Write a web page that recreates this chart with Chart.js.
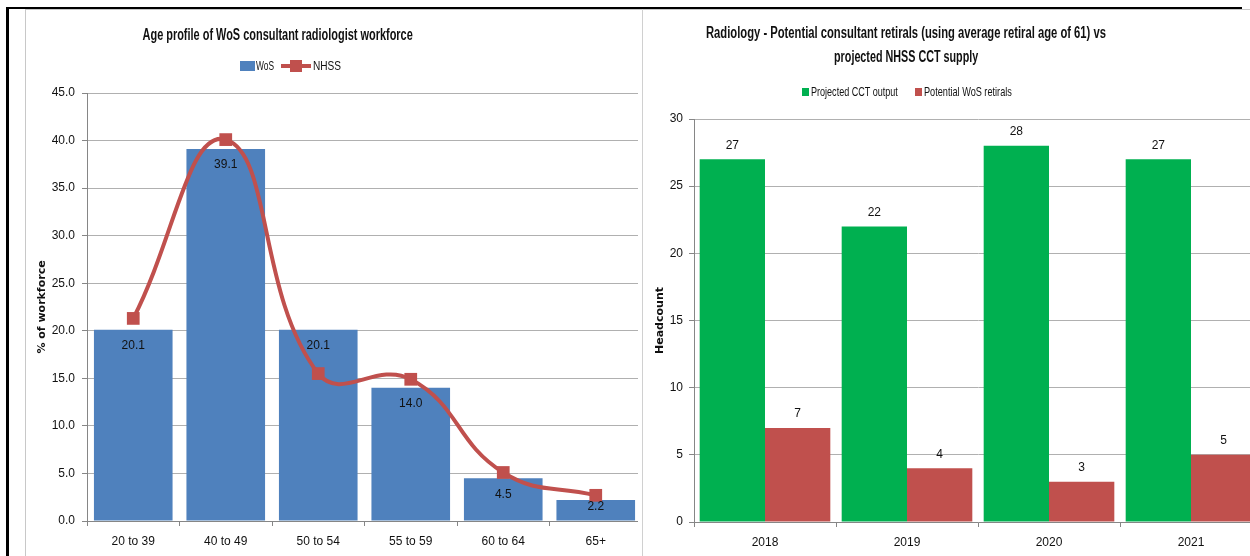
<!DOCTYPE html>
<html>
<head>
<meta charset="utf-8">
<script src="https://cdn.jsdelivr.net/npm/chart.js@4.4.1/dist/chart.umd.min.js"></script>
<style>
  html, body { margin: 0; padding: 0; background: #fff; }
  body { width: 1250px; height: 556px; position: relative; overflow: hidden;
         font-family: 'Liberation Sans', Arial, sans-serif; color: #111; }
  .frame { position: absolute; }
  #blackLeft { left: 6px; top: 7px; width: 3px; height: 549px; background: #000; }
  #blackTop { left: 6px; top: 7px; width: 1236px; height: 2px; background: #000; }
  #greyLeft1 { left: 25px; top: 9px; width: 1px; height: 547px; background: #c8c8c8; }
  #greyLeft2 { left: 642px; top: 9px; width: 1px; height: 547px; background: #d0d0d0; }
  #greyTop { left: 25px; top: 9px; width: 1225px; height: 1px; background: #c8c8c8; }
  #leftBox { position: absolute; left: 26px; top: 10px; width: 612px; height: 546px; overflow: hidden; }
  #rightBox { position: absolute; left: 643px; top: 10px; width: 607px; height: 546px; overflow: hidden; }
  .title { position: absolute; width: 600px; text-align: center; font-weight: bold; font-size: 16px; line-height: 20px; white-space: nowrap; }
  .title span { display: inline-block; transform-origin: center center; }
  .legend { position: absolute; font-size: 13px; line-height: 14px; white-space: nowrap; }
  .legend span { display: inline-block; vertical-align: middle; }
  .legend .txt { transform-origin: left center; }
  .lineSw { position: relative; width: 30px; height: 4px; background: #C0504D; margin: 0 2px 0 3px; }
  .lineSw i { position: absolute; left: 9px; top: -4px; width: 12px; height: 12px; background: #C0504D; }
</style>
</head>
<body>
<div class="frame" id="blackLeft"></div>
<div class="frame" id="blackTop"></div>
<div class="frame" id="greyTop"></div>
<div class="frame" id="greyLeft1"></div>
<div class="frame" id="greyLeft2"></div>

<div id="leftBox"><canvas id="ageChart" width="625" height="546"></canvas></div>
<div id="rightBox"><canvas id="retChart" width="626" height="546"></canvas></div>

<div class="title" style="left:-22px; top:25px;"><span data-w="270">Age profile of WoS consultant radiologist workforce</span></div>
<div class="legend" style="left:240px; top:58px;">
  <span style="width:15px;height:10px;background:#4F81BD;margin-right:1px;"></span><span class="txt" data-w="18">WoS</span>
  <span class="lineSw"><i></i></span><span class="txt" data-w="28">NHSS</span>
</div>

<div class="title" style="left:606px; top:23px;"><span data-w="400">Radiology - Potential consultant retirals (using average retiral age of 61) vs</span></div>
<div class="title" style="left:606px; top:47px;"><span data-w="144">projected NHSS CCT supply</span></div>
<div class="legend" style="left:802px; top:84px;">
  <span style="width:7px;height:8px;background:#00B050;margin-right:2px;"></span><span class="txt" data-w="87">Projected CCT output</span>
  <span style="width:7px;height:8px;background:#C0504D;margin:0 2px 0 14px;"></span><span class="txt" data-w="88">Potential WoS retirals</span>
</div>

<script>
var ageGroups = ['20 to 39', '40 to 49', '50 to 54', '55 to 59', '60 to 64', '65+'];
var wosPct = [20.1, 39.1, 20.1, 14.0, 4.5, 2.2];
var nhssPct = [21.3, 40.1, 15.5, 14.9, 5.1, 2.7];

var years = ['2018', '2019', '2020', '2021'];
var cctOutput = [27, 22, 28, 27];
var wosRetirals = [7, 4, 3, 5];

var FONT = "'Liberation Sans', Arial, sans-serif";
var TITLE_FONT = "'DejaVu Sans', Verdana, sans-serif";
var GRID = '#b0b0b0';
var AXIS = '#868686';

// squeeze the header texts to the narrow widths of the original font
document.querySelectorAll('[data-w]').forEach(function(el) {
    var target = parseFloat(el.getAttribute('data-w'));
    var w = el.offsetWidth;
    el.style.transform = 'scaleX(' + (target / w) + ')';
    if (el.classList.contains('txt')) {
        el.style.marginRight = (target - w) + 'px';
    }
});

// bar value labels, drawn from the bar elements
var barLabels = {
    id: 'barLabels',
    afterDatasetsDraw: function(chart, args, opts) {
        var ctx = chart.ctx;
        ctx.save();
        ctx.font = '12px ' + FONT;
        ctx.fillStyle = '#111';
        ctx.textAlign = 'center';
        ctx.textBaseline = 'middle';
        chart.data.datasets.forEach(function(ds, i) {
            if (ds.type === 'line') return;
            var meta = chart.getDatasetMeta(i);
            meta.data.forEach(function(bar, j) {
                var v = ds.data[j];
                var y;
                if (opts.inside) {
                    y = Math.min(bar.y + 16, bar.base - 14);
                } else {
                    y = bar.y - 14;
                }
                ctx.fillText(v.toFixed(opts.decimals), bar.x, y);
            });
        });
        ctx.restore();
    }
};

Chart.defaults.font.family = FONT;
Chart.defaults.color = '#111';

new Chart(document.getElementById('ageChart'), {
    data: {
        labels: ageGroups,
        datasets: [
            {
                type: 'line',
                label: 'NHSS',
                data: nhssPct,
                borderColor: '#C0504D',
                backgroundColor: '#C0504D',
                borderWidth: 4,
                tension: 0.45,
                pointStyle: 'rect',
                pointRadius: 9,
                pointBorderWidth: 0,
                order: 0
            },
            {
                type: 'bar',
                label: 'WoS',
                data: wosPct,
                backgroundColor: '#4F81BD',
                barPercentage: 0.85,
                categoryPercentage: 1.0,
                order: 1
            }
        ]
    },
    options: {
        responsive: false,
        animation: false,
        layout: { padding: { top: 83, right: 6, left: 0, bottom: 0 } },
        plugins: {
            legend: { display: false },
            title: { display: false },
            tooltip: { enabled: false },
            barLabels: { inside: true, decimals: 1 }
        },
        scales: {
            x: {
                grid: { drawOnChartArea: false, color: AXIS, tickLength: 5 },
                border: { color: AXIS },
                ticks: { font: { size: 12 }, padding: 8, maxRotation: 0 },
                afterFit: function(scale) { scale.height = 35; }
            },
            y: {
                min: 0,
                max: 45,
                ticks: {
                    stepSize: 5,
                    font: { size: 12 },
                    padding: 7,
                    callback: function(v) { return v.toFixed(1); }
                },
                grid: { color: GRID, tickLength: 5, tickColor: AXIS },
                border: { color: AXIS },
                title: {
                    display: true,
                    text: '% of workforce',
                    font: { family: TITLE_FONT, size: 11, weight: 'bold' },
                    padding: { top: 10, bottom: 0 }
                },
                afterFit: function(scale) { scale.width = 61; }
            }
        }
    },
    plugins: [barLabels]
});

new Chart(document.getElementById('retChart'), {
    type: 'bar',
    data: {
        labels: years,
        datasets: [
            {
                label: 'Projected CCT output',
                data: cctOutput,
                backgroundColor: '#00B050',
                barPercentage: 1.0,
                categoryPercentage: 0.92
            },
            {
                label: 'Potential WoS retirals',
                data: wosRetirals,
                backgroundColor: '#C0504D',
                barPercentage: 1.0,
                categoryPercentage: 0.92
            }
        ]
    },
    options: {
        responsive: false,
        animation: false,
        layout: { padding: { top: 109, right: 7, left: 0, bottom: 0 } },
        plugins: {
            legend: { display: false },
            title: { display: false },
            tooltip: { enabled: false },
            barLabels: { inside: false, decimals: 0 }
        },
        scales: {
            x: {
                grid: { drawOnChartArea: false, color: AXIS, tickLength: 5 },
                border: { color: AXIS },
                ticks: { font: { size: 12 }, padding: 8, maxRotation: 0 },
                afterFit: function(scale) { scale.height = 34; }
            },
            y: {
                min: 0,
                max: 30,
                ticks: { stepSize: 5, font: { size: 12 }, padding: 6 },
                grid: { color: GRID, tickLength: 5, tickColor: AXIS },
                border: { color: AXIS },
                title: {
                    display: true,
                    text: 'Headcount',
                    font: { family: TITLE_FONT, size: 11, weight: 'bold' },
                    padding: { top: 11, bottom: 0 }
                },
                afterFit: function(scale) { scale.width = 51; }
            }
        }
    },
    plugins: [barLabels]
});
</script>
</body>
</html>
